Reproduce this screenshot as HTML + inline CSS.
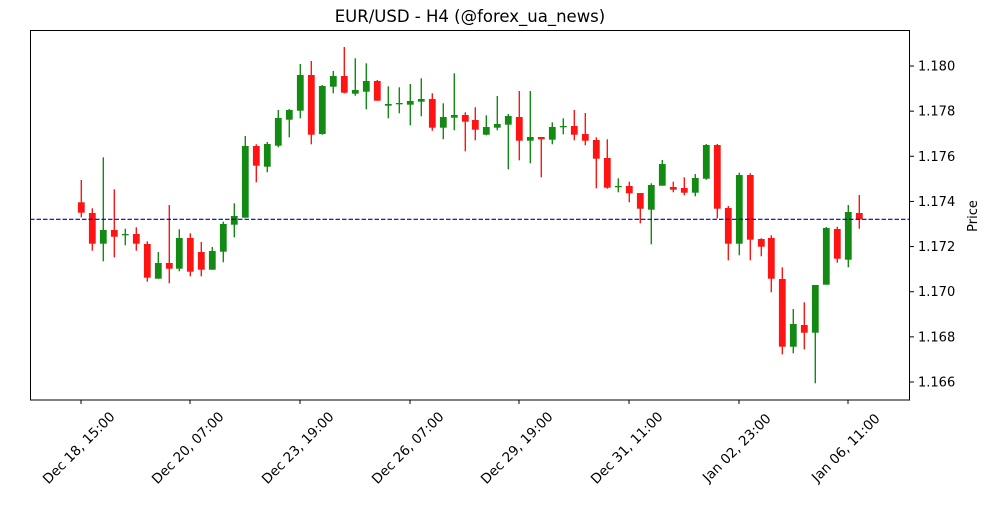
<!DOCTYPE html>
<html><head><meta charset="utf-8"><style>
html,body{margin:0;padding:0;background:#fff;}
svg text{font-family:"DejaVu Sans","Liberation Sans",sans-serif;fill:#000;}
</style></head><body>
<svg id="s" width="1000" height="500" viewBox="0 0 1000 500" xmlns="http://www.w3.org/2000/svg">
<rect x="0" y="0" width="1000" height="500" fill="#fff"/>
<text x="470" y="22" font-size="16.5" text-anchor="middle">EUR/USD - H4 (@forex_ua_news)</text>
<g id="c"></g>
<line x1="30" y1="219.3" x2="910" y2="219.3" stroke="#0000b0" stroke-width="1.2" stroke-dasharray="4.5,2"/>
<rect x="30.5" y="30.5" width="879" height="369.5" fill="none" stroke="#000" stroke-width="1"/>
<g id="ax"></g>
<text transform="translate(977,216) rotate(-90)" font-size="13" text-anchor="middle">Price</text>
</svg>
<script>
var d=[
[81.3,202.3,212.7,180,217.3,0],[92.3,213,243.7,208.3,250.7,0],[103.3,230,243.7,157.3,261.3,1],[114.3,230,236.7,189.3,257.3,0],
[125.3,234,235.3,228.7,245.3,1],[136.3,234,243.7,227.3,250.7,0],[147.3,244,277.7,241.3,281.7,0],[158.3,263,278.7,252,278.7,1],
[169.3,263,268.7,205,283.3,0],[179.3,238,268.7,229.3,271.3,1],[190.3,238,271.7,233.3,276.3,0],[201.3,252,269.7,242,276.3,0],
[212.3,251,269.7,247,269.7,1],[223.3,224,251.7,221.7,262.3,1],[234.3,216,224.7,203.3,237.3,1],[245.3,146,217.7,136,217.7,1],
[256.3,146,165.7,144.3,182.3,0],[267.3,144,166.7,142,172.3,1],[278.3,118,145.7,110,147.3,1],[289.3,110,119.7,109,137.3,1],
[300.3,75,110.7,64,118.3,1],[311.3,75,134.7,61,144.3,0],[322.3,86,134,85,134.7,1],[333.3,76,86.7,71,93.3,1],
[344.3,76,92.7,47,93.3,0],[355.3,90,93.7,58.3,95.7,1],[366.3,81,91.7,63.3,109.3,1],[377.3,81,100.7,80,100.7,0],
[388.3,104,105.7,86.3,118.3,1],[399.3,103,104.3,87.3,113.3,1],[410.3,101,104.7,84,125.3,1],[421.3,99,101.7,78.3,116.3,1],
[432.3,99,127.7,93.3,130.7,0],[443.3,117,127.7,103.3,139.3,1],[454.3,115,117.7,73.3,130.3,1],[465.3,115,121.7,112.3,151.3,0],
[475.3,120,129.7,107.3,140.3,0],[486.3,127,134.7,115.3,135.3,1],[497.3,124,127.7,96,130.3,1],[508.3,116,124.7,114,169.3,1],
[519.3,117,140.7,91,160.3,0],[530.3,137,140.7,91,163.3,1],[541.3,137,139.3,137,177.3,0],[552.3,127,139.7,122.3,144.3,1],
[563.3,126,127.3,118.3,134.3,1],[574.3,126,134.7,110,140.3,0],[585.3,134,140.7,113,145.3,0],[596.3,140,158.7,137.3,188.3,0],
[607.3,158,187.7,139.3,188.7,0],[618.3,186,187.3,178.3,192.3,1],[629.3,186,193.3,181.7,202.3,0],[640.3,193,208.7,193,223.3,0],
[651.3,185,209.7,183.3,244.3,1],[662.3,164,185.7,160,185.7,1],[673.3,187,189.7,181.7,192.3,0],[684.3,188,192.7,177.3,195.3,0],
[695.3,178,192.7,174,196.3,1],[706.3,145,178.7,144,179.7,1],[717.3,145,208.7,144,218.3,0],[728.3,208,243.7,206,260.3,0],
[739.3,175,243.7,172.7,255.3,1],[750.3,175,239.7,173.3,260.3,0],[761.3,239,246.7,238.3,256.3,0],[771.3,238,278.7,235.3,292.3,0],
[782.3,279,346.7,267.3,354.3,0],[793.3,324,346.7,309,353.3,1],[804.3,325,332.7,302.3,349.3,0],[815.3,285,332.7,285,383.3,1],
[826.3,228,284.7,227,284.7,1],[837.3,229,258.7,226.7,262.7,0],[848.3,212,259.7,205,267.3,1],[859.3,213,219.3,195,228.7,0]];
var h='';
d.forEach(function(c){var col=c[5]?'#138a13':'#ff1414';
h+='<line x1="'+c[0]+'" x2="'+c[0]+'" y1="'+c[3]+'" y2="'+c[4]+'" stroke="'+col+'" stroke-width="1.4"/>';
var hh=Math.max(c[2]-c[1],1.2);
h+='<rect x="'+(c[0]-3.4)+'" y="'+c[1]+'" width="6.8" height="'+hh+'" fill="'+col+'"/>';});
document.getElementById('c').innerHTML=h;
var a='';
for(var i=0;i<8;i++){var v=1.166+0.002*i;var y=382-i*45.14;
a+='<line x1="910" x2="914" y1="'+y+'" y2="'+y+'" stroke="#000"/>';
a+='<text x="918" y="'+(y+4.5)+'" font-size="13">'+v.toFixed(3)+'</text>';}
var xt=[[81,'Dec 18, 15:00'],[190,'Dec 20, 07:00'],[300,'Dec 23, 19:00'],[410,'Dec 26, 07:00'],[519,'Dec 29, 19:00'],[629,'Dec 31, 11:00'],[739,'Jan 02, 23:00'],[848,'Jan 06, 11:00']];
xt.forEach(function(t){a+='<line x1="'+t[0]+'" x2="'+t[0]+'" y1="400" y2="404" stroke="#000"/>';
a+='<text transform="translate('+(t[0]+1)+',451) rotate(-45)" font-size="13.5" text-anchor="middle">'+t[1]+'</text>';});
document.getElementById('ax').innerHTML=a;
</script>
</body></html>
